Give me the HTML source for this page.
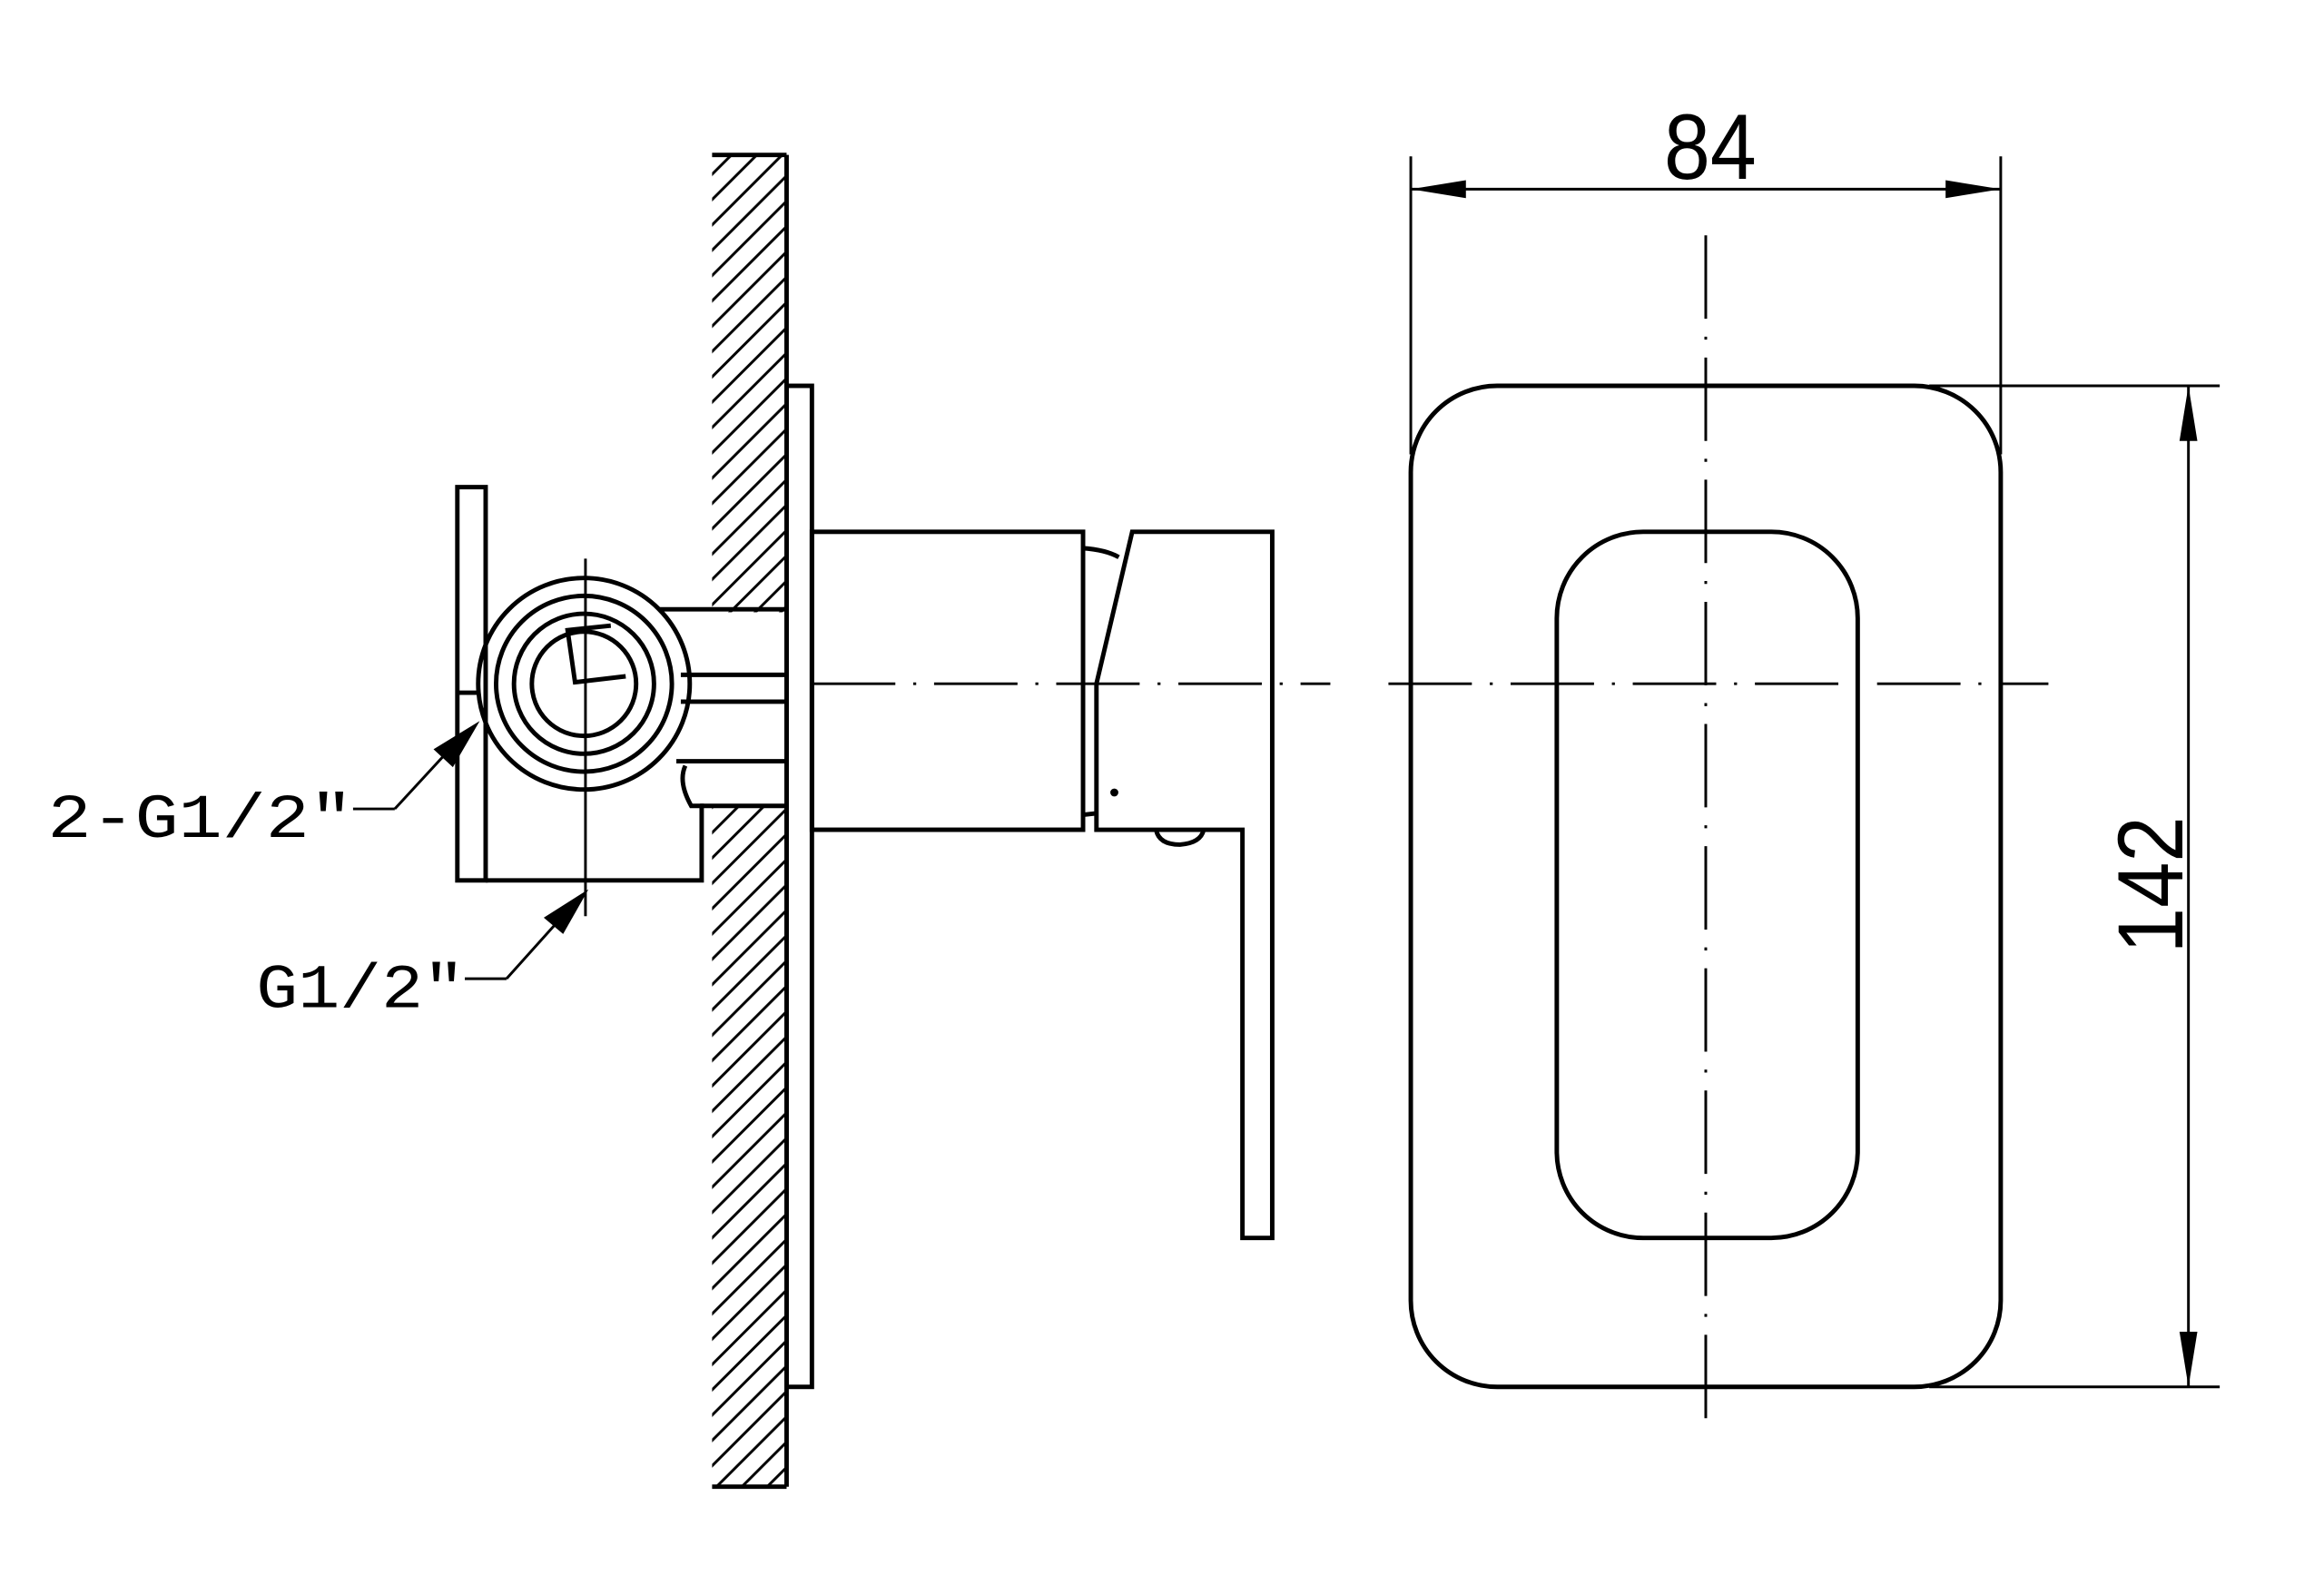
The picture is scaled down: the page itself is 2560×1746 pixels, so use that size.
<!DOCTYPE html>
<html><head><style>html,body{margin:0;padding:0;background:#fff}svg{display:block}</style></head>
<body>
<svg width="2560" height="1746" viewBox="0 0 1560 1064" preserveAspectRatio="none" xmlns="http://www.w3.org/2000/svg">
<defs>
<pattern id="h" width="17" height="17" patternUnits="userSpaceOnUse"><path d="M-4,21 L21,-4 M-4,4 L4,-4 M13,21 L21,13" stroke="#000" stroke-width="1.8"/></pattern>
</defs>
<g fill="none" stroke="#000" stroke-width="3">
<rect x="478" y="104" width="50" height="307" fill="url(#h)" stroke="none"/>
<rect x="478" y="541" width="50" height="457" fill="url(#h)" stroke="none"/>
<line x1="478" y1="104" x2="528" y2="104"/>
<line x1="478" y1="998" x2="528" y2="998"/>
<line x1="528" y1="104" x2="528" y2="998"/>
<rect x="528" y="259" width="17" height="672"/>
<rect x="545" y="357" width="182" height="200"/>
<path d="M760,357 L854,357 L854,831 L834,831 L834,557 L736,557 L736,459 Z"/>
<path d="M727,368 Q742,369 751,374"/>
<path d="M727,547 L736,546"/>
<path d="M776,557 Q778,567 792,567 Q806,566 808,557"/>
<circle cx="748" cy="532" r="1.2" fill="#000"/>
<rect x="307" y="327" width="19" height="264"/>
<path d="M326,591 L471,591 L471,541 L464,541 Q455,525 460,514"/>
<line x1="307" y1="465" x2="322" y2="465"/>
<circle cx="392" cy="459" r="71"/>
<circle cx="392" cy="459" r="59"/>
<circle cx="392" cy="459" r="47"/>
<circle cx="392" cy="459" r="35"/>
<path d="M420,454 L386,458 L381,423 L410,420"/>
<line x1="443" y1="409" x2="528" y2="409"/>
<line x1="457" y1="453" x2="528" y2="453"/>
<line x1="457" y1="471" x2="528" y2="471"/>
<line x1="454" y1="511" x2="528" y2="511"/>
<line x1="470" y1="541" x2="528" y2="541"/>
<line x1="393" y1="375" x2="393" y2="615" stroke-width="1.8"/>
<path d="M265,543 L237,543" stroke-width="1.8"/>
<path d="M265,543 L300,505" stroke-width="1.8"/>
<path d="M340,657 L312,657" stroke-width="1.8"/>
<path d="M340,657 L375,618" stroke-width="1.8"/>
</g>
<polygon points="322,484 304,515 291,503" fill="#000"/>
<polygon points="395,597 378,627 365,616" fill="#000"/>
<g stroke="#000" stroke-width="1.8" stroke-dasharray="56,12,2,12">
<line x1="545" y1="459" x2="893" y2="459"/>
<line x1="932" y1="459" x2="1375" y2="459"/>
<line x1="1145" y1="158" x2="1145" y2="962"/>
</g>
<g fill="none" stroke="#000" stroke-width="3">
<rect x="947" y="259" width="396" height="672" rx="58" ry="58"/>
<rect x="1045" y="357" width="202" height="474" rx="58" ry="58"/>
</g>
<g stroke="#000" stroke-width="1.8">
<line x1="947" y1="105" x2="947" y2="305"/>
<line x1="1343" y1="105" x2="1343" y2="305"/>
<line x1="947" y1="127" x2="1343" y2="127"/>
<line x1="1295" y1="259" x2="1490" y2="259"/>
<line x1="1295" y1="931" x2="1490" y2="931"/>
<line x1="1469" y1="259" x2="1469" y2="931"/>
</g>
<g fill="#000">
<polygon points="947,127 984,121 984,133"/>
<polygon points="1343,127 1306,121 1306,133"/>
<polygon points="1469,259 1463,296 1475,296"/>
<polygon points="1469,931 1463,894 1475,894"/>
</g>
<g font-family="'Liberation Sans',sans-serif" fill="#000">
<text x="1117" y="120" font-size="62" textLength="62" lengthAdjust="spacingAndGlyphs">84</text>
<text transform="translate(1465,640) rotate(-90)" font-size="62" textLength="92" lengthAdjust="spacingAndGlyphs">142</text>
<text x="32" y="562" font-size="42" font-family="'Liberation Mono',monospace" textLength="205" lengthAdjust="spacingAndGlyphs">2-G1/2″</text>
<text x="172" y="676" font-size="42" font-family="'Liberation Mono',monospace" textLength="140" lengthAdjust="spacingAndGlyphs">G1/2″</text>
</g>
</svg>
</body></html>
